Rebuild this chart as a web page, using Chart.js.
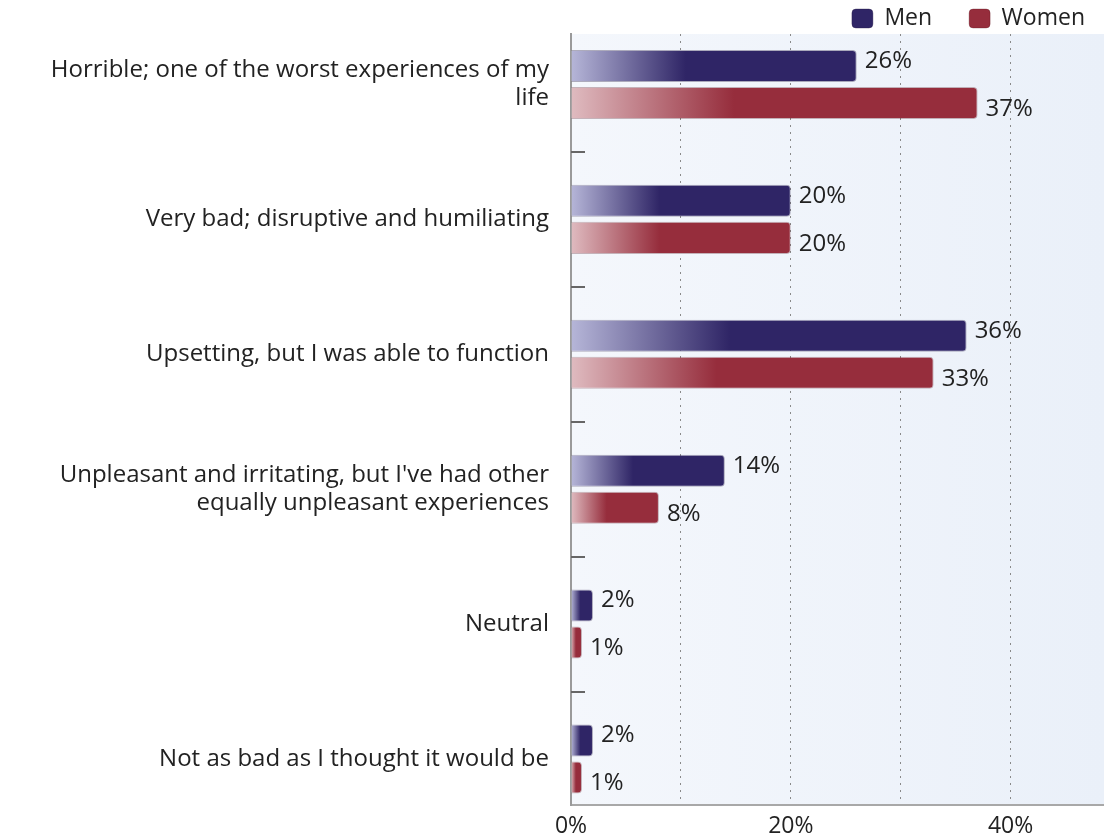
<!DOCTYPE html>
<html>
<head>
<meta charset="utf-8">
<script src="https://cdn.jsdelivr.net/npm/chart.js@4.4.1/dist/chart.umd.min.js"></script>
<style>
  html, body { margin: 0; padding: 0; background: #fff; overflow: hidden; }
  canvas { display: block; }
</style>
</head>
<body>
<canvas id="chart" width="1104" height="839"></canvas>
<script>
// categories (multi-line labels kept as arrays of lines)
const categories = [
    ['Horrible; one of the worst experiences of my', 'life'],
    'Very bad; disruptive and humiliating',
    'Upsetting, but I was able to function',
    ["Unpleasant and irritating, but I've had other", 'equally unpleasant experiences'],
    'Neutral',
    'Not as bad as I thought it would be'
];
const seriesNames = ['Men', 'Women'];
const menValues = [26, 20, 36, 14, 2, 2];
const womenValues = [37, 20, 33, 8, 1, 1];
const xTickLabels = [0, 20, 40];

const FONT = "'Open Sans', sans-serif";

function barFill(light, dark) {
    return (ctx) => {
        const xs = ctx.chart.scales.x;
        if (ctx.type !== 'data' || !xs || !ctx.raw) return dark;
        const x0 = xs.getPixelForValue(0);
        const x1 = xs.getPixelForValue(ctx.raw.x);
        if (!isFinite(x0) || !isFinite(x1)) return dark;
        const g = ctx.chart.ctx.createLinearGradient(x0, 0, x0 + (x1 - x0) * 0.4 + 0.5, 0);
        g.addColorStop(0, light);
        g.addColorStop(1, dark);
        return g;
    };
}

// light blue plot background
const plotBackground = {
    id: 'plotBackground',
    beforeDraw(chart) {
        const { ctx, chartArea: a } = chart;
        const g = ctx.createLinearGradient(a.left, 0, a.right, 0);
        g.addColorStop(0, '#f4f7fc');
        g.addColorStop(1, '#eaf0f9');
        ctx.save();
        ctx.fillStyle = g;
        ctx.fillRect(a.left, a.top, a.right - a.left, a.bottom - a.top);
        ctx.restore();
    }
};

// short marks between the category groups
const groupMarks = {
    id: 'groupMarks',
    beforeDatasetsDraw(chart) {
        const { ctx, chartArea: a, scales } = chart;
        ctx.save();
        ctx.strokeStyle = '#666';
        ctx.lineWidth = 2;
        for (let i = 0; i < categories.length - 1; i++) {
            const y = Math.round(scales.y.getPixelForValue(i + 0.5));
            ctx.beginPath();
            ctx.moveTo(a.left, y);
            ctx.lineTo(a.left + 14, y);
            ctx.stroke();
        }
        ctx.restore();
    }
};

// percentage labels next to the bars
const valueLabels = {
    id: 'valueLabels',
    afterDatasetsDraw(chart) {
        const { ctx } = chart;
        ctx.save();
        ctx.font = '24px ' + FONT;
        ctx.fillStyle = '#222';
        ctx.textBaseline = 'middle';
        chart.data.datasets.forEach((ds, di) => {
            chart.getDatasetMeta(di).data.forEach((bar, i) => {
                const dy = di === 0 ? -5 : 6;
                ctx.fillText(ds.data[i].x + '%', bar.x + 8, bar.y + dy);
            });
        });
        ctx.restore();
    }
};

// legend sits in the top-right corner above the plot
const legendPlace = {
    id: 'legendPlace',
    afterLayout(chart) {
        const lg = chart.legend;
        lg.right += 18;
        lg.top = 19 - lg.options.labels.padding - 12;
    }
};

new Chart(document.getElementById('chart'), {
    type: 'bar',
    data: {
        datasets: [{
            label: seriesNames[0],
            data: menValues.map((v, i) => ({ x: v, y: i })),
            backgroundColor: barFill('#b6b6d8', '#2f2566'),
            borderColor: 'rgba(40,30,70,0.35)'
        }, {
            label: seriesNames[1],
            data: womenValues.map((v, i) => ({ x: v, y: i })),
            backgroundColor: barFill('#dfbbc0', '#962d3c'),
            borderColor: 'rgba(90,20,30,0.3)'
        }]
    },
    options: {
        indexAxis: 'y',
        responsive: false,
        animation: false,
        layout: { padding: 0 },
        datasets: {
            bar: {
                categoryPercentage: 0.549,
                barPercentage: 0.865,
                borderWidth: 1,
                borderSkipped: 'start',
                borderRadius: 4
            }
        },
        scales: {
            x: {
                type: 'linear',
                min: 0,
                max: 48.5,
                afterFit(scale) {
                    scale.height = 34;
                },
                ticks: {
                    stepSize: 10,
                    padding: 0,
                    color: '#222',
                    font: { family: FONT, size: 23, lineHeight: 1 },
                    callback: (v) => xTickLabels.includes(v) ? v + '%' : ''
                },
                grid: {
                    color: '#8a8a8a',
                    lineWidth: 1,
                    tickLength: 10,
                    tickColor: 'transparent'
                },
                border: { display: true, color: '#a8a8a8', width: 2, dash: [2, 5] }
            },
            y: {
                type: 'linear',
                reverse: true,
                offset: false,
                bounds: 'data',
                min: -0.374,
                max: 5.341,
                afterBuildTicks(scale) {
                    scale.ticks = categories.map((c, i) => ({ value: i }));
                },
                afterFit(scale) {
                    scale.width = 571;
                    // labels sit well inside the range, no overflow room needed
                    scale.paddingTop = 0;
                    scale.paddingBottom = 0;
                },
                ticks: {
                    padding: 14,
                    color: '#222',
                    font: { family: FONT, size: 24, lineHeight: 1.15 },
                    callback: (v) => categories[v]
                },
                grid: { display: false },
                border: { display: true, color: '#9a9a9a', width: 2 }
            }
        },
        plugins: {
            legend: {
                position: 'top',
                align: 'end',
                maxHeight: 34,
                labels: {
                    boxWidth: 21,
                    boxHeight: 19,
                    useBorderRadius: true,
                    borderRadius: 4,
                    padding: 37,
                    color: '#222',
                    font: { family: FONT, size: 23 }
                }
            },
            tooltip: { enabled: false }
        }
    },
    plugins: [plotBackground, groupMarks, valueLabels, legendPlace]
});
</script>
</body>
</html>
